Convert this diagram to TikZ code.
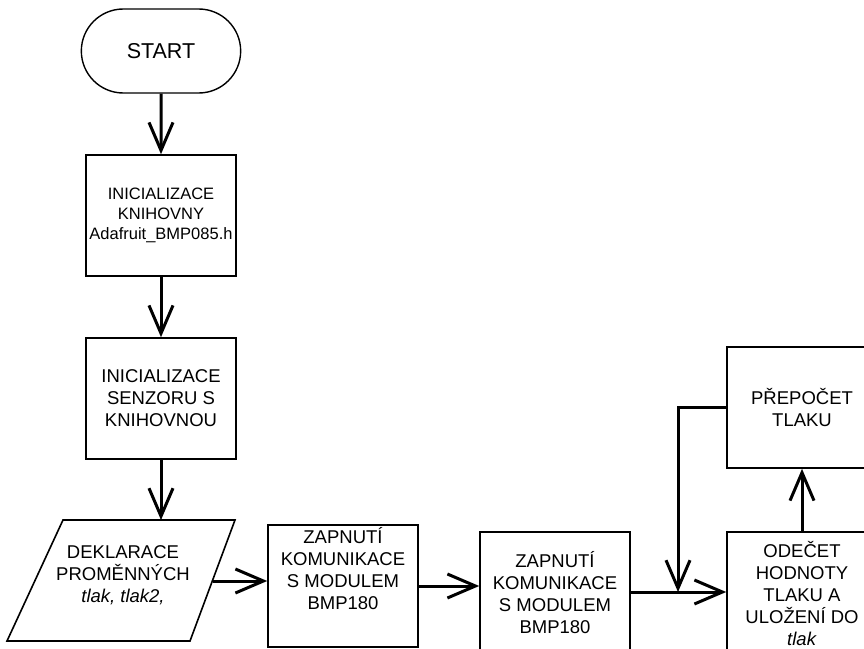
\documentclass[tikz,border=0pt]{standalone}
\usepackage{fontspec}
\setmainfont{Liberation Sans}
\usetikzlibrary{arrows.meta,shapes.misc}

\begin{document}
\begin{tikzpicture}[x=1pt,y=-1pt,
  every node/.style={align=center,font=\fontsize{18.5}{22}\selectfont},
  blok/.style={draw,line width=1.6pt,minimum width=150pt,minimum height=121pt,inner sep=0pt},
  sipka/.style={line width=3pt,-{Straight Barb[length=28pt,width=24pt]}}]
  \useasboundingbox (0,0) rectangle (864,648);
  \node[draw,line width=1.4pt,rounded rectangle,minimum width=166pt,minimum height=84pt,
    font=\fontsize{21.5}{24}\selectfont] (start) at (161,51) {START};
  \node[blok,font=\fontsize{16.5}{20}\selectfont] (knihovna) at (161,215.5)
    {INICIALIZACE\\KNIHOVNY\\Adafruit\_BMP085.h};
  \node[blok] (senzor) at (161,398.5) {INICIALIZACE\\SENZORU S\\KNIHOVNOU};
  % vstup/vystup
  \draw[line width=1.6pt] (63,520) -- (235,520) -- (190,641) -- (7,641) -- cycle;
  \node (deklarace) at (123,575) {DEKLARACE\\PROMĚNNÝCH\\\textit{tlak, tlak2,}};
  \coordinate (deklarace-r) at (213,581);
  \coordinate (deklarace-n) at (161,520);
  \node[blok,minimum height=122pt,text depth=36pt] (zapnuti1) at (343,586)
    {ZAPNUTÍ\\KOMUNIKACE\\S MODULEM\\BMP180};
  \node[blok,minimum height=122pt] (zapnuti2) at (555,593)
    {ZAPNUTÍ\\KOMUNIKACE\\S MODULEM\\BMP180};
  \node[blok,minimum height=122pt] (odecet) at (802,593)
    {ODEČET\\HODNOTY\\TLAKU A\\ULOŽENÍ DO\\\textit{tlak}};
  \node[blok] (prepocet) at (802,407.5) {PŘEPOČET\\TLAKU};
  \coordinate (uzel) at (678,592);

  \draw[sipka] (start) -- (knihovna);
  \draw[sipka] (knihovna) -- (senzor);
  \draw[sipka] (senzor.south) -- (deklarace-n);
  \draw[sipka] (deklarace-r) -- (deklarace-r -| zapnuti1.west);
  \draw[sipka] (zapnuti1.east) -- (zapnuti1.east -| zapnuti2.west);
  \draw[sipka] (zapnuti2.east |- uzel) -- (uzel -| odecet.west);
  \draw[sipka] (prepocet.west) -| (uzel);
  \draw[sipka] (odecet) -- (prepocet);
\end{tikzpicture}
\end{document}
